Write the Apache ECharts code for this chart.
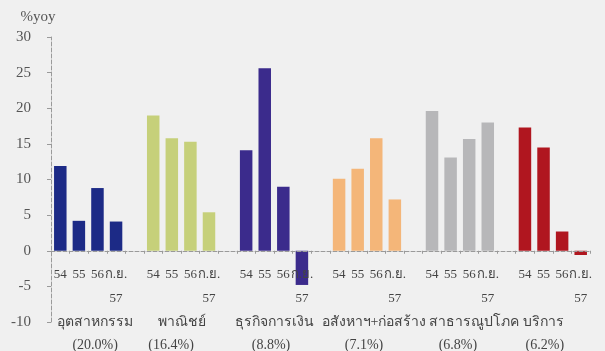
<!DOCTYPE html>
<html>
<head>
<meta charset="utf-8">
<script src="https://cdn.jsdelivr.net/npm/echarts@6/dist/echarts.min.js"></script>
<style>
  html, body { margin: 0; padding: 0; background: #f0f0f0; }
  #chart { width: 605px; height: 351px; }
</style>
</head>
<body>
<div id="chart"></div>
<script>
// Period labels shown under each bar of a sector group
const periods = ['54', '55', '56', 'ก.ย.\n57'];
// Sector names and their weight in the economy
const sectors = ['อุตสาหกรรม', 'พาณิชย์', 'ธุรกิจการเงิน', 'อสังหาฯ+ก่อสร้าง', 'สาธารณูปโภค', 'บริการ'];
const shares = ['(20.0%)', '(16.4%)', '(8.8%)', '(7.1%)', '(6.8%)', '(6.2%)'];
// Growth (%yoy) per sector for 54, 55, 56, ก.ย. 57
const industry   = [11.9, 4.2, 8.8, 4.1];
const commerce   = [19.0, 15.8, 15.3, 5.4];
const finance    = [14.1, 25.6, 9.0, -4.8];
const realEstate = [10.1, 11.5, 15.8, 7.2];
const utilities  = [19.6, 13.1, 15.7, 18.0];
const services   = [17.3, 14.5, 2.7, -0.6];
// Y axis ticks
const yTicks = { min: -10, max: 30, step: 5 };

const groups = [industry, commerce, finance, realEstate, utilities, services];
const palette = ['#1c2a86', '#c6d07a', '#3b2b8c', '#f4b679', '#b7b7b9', '#b0161f'];
// Horizontal nudge (px) of each caption line so long names do not collide
const nameShift  = [7, 1, 0, 7, 14, -9];
const shareShift = [7, -10, -3, -3, -2, -8];

// Flatten groups into one category axis with an empty slot between groups
const categories = [];
const barData = [];
groups.forEach((vals, g) => {
  if (g > 0) { categories.push(''); barData.push(null); }
  vals.forEach((v, i) => {
    categories.push(periods[i]);
    barData.push({ value: v, itemStyle: { color: palette[g] } });
  });
});
// Group captions sit on the boundary between the 2nd and 3rd bar of each group
const captionSlots = [];
for (let i = 0; i <= categories.length; i++) captionSlots.push('');
groups.forEach((_, g) => { captionSlots[g * 5 + 2] = String(g); });

const serif = "'Liberation Serif', 'DejaVu Serif', serif";
const pad = (dx) => dx >= 0 ? [0, 0, 0, 2 * dx] : [0, -2 * dx, 0, 0];
const rich = {};
groups.forEach((_, g) => {
  rich['n' + g] = { fontFamily: serif, fontSize: 14, color: '#444', lineHeight: 23, padding: pad(nameShift[g]) };
  rich['p' + g] = { fontFamily: serif, fontSize: 14, color: '#444', lineHeight: 23, padding: pad(shareShift[g]) };
});

const chart = echarts.init(document.getElementById('chart'));
chart.setOption({
  backgroundColor: '#f0f0f0',
  animation: false,
  grid: { left: 51, right: 15, top: 37, bottom: 29, containLabel: false, outerBoundsMode: 'none' },
  xAxis: [{
    type: 'category',
    data: categories,
    position: 'bottom',
    axisLine: { onZero: false, lineStyle: { color: '#9a9a9a', type: 'dashed', width: 1 } },
    axisTick: { show: true, length: 3, interval: 0, lineStyle: { color: '#9a9a9a' } },
    axisLabel: {
      interval: 0, margin: 12, color: '#444', fontFamily: serif, fontSize: 13,
      lineHeight: 24
    },
    splitLine: { show: false },
    z: 5
  }, {
    type: 'category',
    data: captionSlots,
    boundaryGap: false,
    position: 'bottom',
    axisLine: { show: false, onZero: false },
    axisTick: { show: false },
    axisLabel: {
      interval: 0, margin: -11, rich: rich,
      formatter: (v) => {
        if (v === '') return '';
        const g = +v;
        return '{n' + g + '|' + sectors[g] + '}\n{p' + g + '|' + shares[g] + '}';
      }
    },
    splitLine: { show: false }
  }],
  yAxis: {
    type: 'value',
    min: yTicks.min, max: yTicks.max, interval: yTicks.step,
    name: '%yoy',
    nameLocation: 'end',
    nameGap: 12,
    nameTextStyle: { color: '#555', fontFamily: serif, fontSize: 15, align: 'center', padding: [0, 26, 0, 0] },
    axisLine: { show: true, lineStyle: { color: '#9a9a9a', type: 'dashed' } },
    axisTick: { show: true, length: 4, lineStyle: { color: '#9a9a9a' } },
    axisLabel: { color: '#555', fontFamily: serif, fontSize: 15, margin: 20 },
    splitLine: { show: false }
  },
  series: [{
    type: 'bar',
    xAxisIndex: 0,
    data: barData,
    barWidth: 12.5
  }]
});

// Lift the period axis from the grid bottom up to the zero line of the value axis
const zeroY = chart.convertToPixel({ yAxisIndex: 0 }, 0);
const floorY = chart.convertToPixel({ yAxisIndex: 0 }, yTicks.min);
chart.setOption({ xAxis: [{ offset: -(floorY - zeroY) }, {}] });
</script>
</body>
</html>
